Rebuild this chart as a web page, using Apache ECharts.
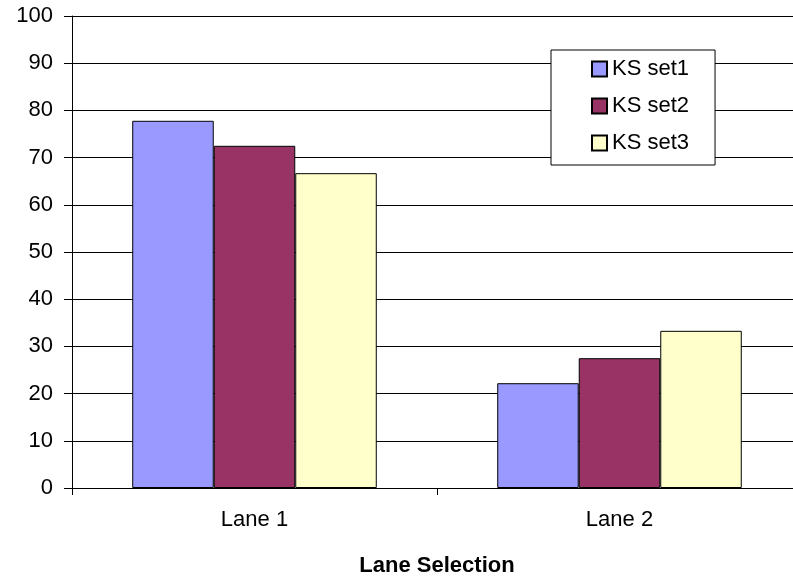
<!DOCTYPE html>
<html>
<head>
<meta charset="utf-8">
<script src="https://cdn.jsdelivr.net/npm/echarts@6/dist/echarts.min.js"></script>
<style>
  html, body { margin: 0; padding: 0; background: #fff; }
  #chart { width: 793px; height: 579px; }
</style>
</head>
<body>
<div id="chart"></div>
<script>
// Lane selection percentages per KS set
const lanes = ['Lane 1', 'Lane 2'];
const ksSet1 = [77.8, 22.2];
const ksSet2 = [72.5, 27.5];
const ksSet3 = [66.7, 33.3];
const seriesNames = ['KS set1', 'KS set2', 'KS set3'];
const seriesColors = ['#9999FF', '#993366', '#FFFFCC'];

const font = 'Liberation Sans, Arial, sans-serif';
const chart = echarts.init(document.getElementById('chart'));

const values = [ksSet1, ksSet2, ksSet3];
const series = values.map((data, i) => ({
  name: seriesNames[i],
  type: 'bar',
  data: data,
  barGap: '0%',
  barCategoryGap: '33%',
  itemStyle: { color: seriesColors[i], borderColor: '#000', borderWidth: 1 }
}));

chart.setOption({
  animation: false,
  backgroundColor: '#fff',
  grid: { left: 72, top: 16, width: 730, height: 472, containLabel: false, outerBoundsMode: 'none' },
  legend: {
    orient: 'vertical',
    left: 551,
    top: 50,
    data: seriesNames,
    icon: 'rect',
    itemWidth: 15,
    itemHeight: 15,
    itemGap: 15,
    padding: [8, 26, 11, 40],
    borderColor: '#000',
    borderWidth: 1,
    backgroundColor: '#fff',
    textStyle: { fontFamily: font, fontSize: 22, color: '#000', lineHeight: 22 }
  },
  xAxis: {
    type: 'category',
    data: lanes,
    name: 'Lane Selection',
    nameLocation: 'middle',
    nameGap: 67,
    nameTextStyle: { fontFamily: font, fontSize: 22, fontWeight: 'bold', color: '#000' },
    axisLine: { lineStyle: { color: '#000', width: 1 } },
    axisTick: { show: true, length: 7, lineStyle: { color: '#000' } },
    axisLabel: { fontFamily: font, fontSize: 22, color: '#000', margin: 21 }
  },
  yAxis: {
    type: 'value',
    min: 0,
    max: 100,
    interval: 10,
    axisLine: { show: true, lineStyle: { color: '#000', width: 1 } },
    axisTick: { show: true, length: 8, lineStyle: { color: '#000' } },
    axisLabel: { fontFamily: font, fontSize: 22, color: '#000', margin: 19 },
    splitLine: { show: true, lineStyle: { color: '#000', width: 1 } }
  },
  series: series
});
</script>
</body>
</html>
